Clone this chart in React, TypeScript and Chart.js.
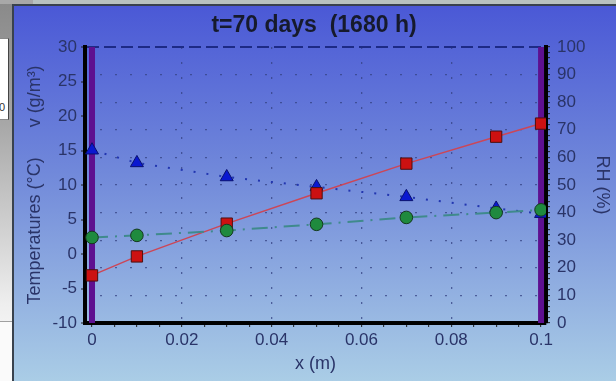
import React, { useEffect, useRef } from "react";
import { Chart, registerables } from "chart.js";

Chart.register(...registerables);

// ---- data ----
const positions = [0, 0.01, 0.03, 0.05, 0.07, 0.09, 0.1];
const temperature = [-3.1, -0.35, 4.4, 8.8, 13.1, 17.0, 18.9];
const vapourDensity = [2.4, 2.7, 3.4, 4.3, 5.3, 6.0, 6.4];
const relativeHumidity = [62.6, 58.0, 52.9, 49.3, 45.7, 41.5, 39.6];
const wallFaces = [0, 0.1];
const wallSpan = [-10, 30];

// ---- tick labels ----
const xMajorTicks = [0, 0.02, 0.04, 0.06, 0.08, 0.1];
const xMinorStep = 0.005;
const tempTicks = [-10, -5, 0, 5, 10, 15, 20, 25, 30];
const rhMajorTicks = [0, 10, 20, 30, 40, 50, 60, 70, 80, 90, 100];
const rhMinorStep = 2;

const TITLE = "t=70 days  (1680 h)";
const LEFT_TITLE = "Temperatures (°C)" + "\u00a0".repeat(6) + "v (g/m³)";
const RIGHT_TITLE = "RH (%)";
const X_TITLE = "x (m)";

const FONT = "'Liberation Sans', Arial, Helvetica, sans-serif";
const TEXT = "#2a3468";
const DOT = "rgba(52, 66, 130, 0.75)";

const isMult = (v: number, step: number) => Math.abs(v / step - Math.round(v / step)) < 1e-6;

function buildSteps(first: number, last: number, step: number) {
  const n = Math.round((last - first) / step);
  const out: { value: number }[] = [];
  for (let i = 0; i <= n; i++) out.push({ value: Math.round((first + i * step) * 1e6) / 1e6 });
  return out;
}

export default function App() {
  const ref = useRef<HTMLCanvasElement>(null);

  useEffect(() => {
    document.body.style.margin = "0";
    const canvas = ref.current!;

    const background = {
      id: "bg",
      beforeDraw(chart: any) {
        const { ctx, width, height } = chart;
        ctx.save();
        const g = ctx.createLinearGradient(0, 0, 0, height);
        g.addColorStop(0, "#4a58d6");
        g.addColorStop(0.45, "#7189da");
        g.addColorStop(1, "#aacde6");
        ctx.fillStyle = g;
        ctx.fillRect(0, 0, width, height);
        ctx.fillStyle = "#39424e";
        ctx.fillRect(0, 0, 2, height);
        ctx.fillRect(0, 0, width, 2);
        ctx.restore();
      },
    };

    const pts = (ys: number[]) => positions.map((x, i) => ({ x, y: ys[i] }));
    const wall = (xv: number) => wallSpan.map((y) => ({ x: xv, y }));

    const chart = new Chart(canvas, {
      type: "line",
      data: {
        datasets: [
          {
            label: "v",
            data: pts(vapourDensity),
            yAxisID: "y",
            borderColor: "#3f8a8c",
            borderWidth: 2,
            borderDash: [16, 7, 2, 7],
            pointStyle: "circle",
            pointRadius: 6.3,
            pointBackgroundColor: "#1f8a3e",
            pointBorderColor: "#15381f",
            pointBorderWidth: 1,
          },
          {
            label: "T",
            data: pts(temperature),
            yAxisID: "y",
            borderColor: "#cc4657",
            borderWidth: 1.5,
            pointStyle: "rect",
            pointRadius: 8,
            pointBackgroundColor: "#cc1111",
            pointBorderColor: "#4a1010",
            pointBorderWidth: 1,
          },
          {
            label: "RH",
            data: pts(relativeHumidity),
            yAxisID: "yR",
            borderColor: "#2236b0",
            borderWidth: 2,
            borderDash: [2, 11],
            pointStyle: "triangle",
            pointRadius: 7.5,
            pointBackgroundColor: "#0a18d0",
            pointBorderColor: "#081070",
            pointBorderWidth: 1,
          },
          ...wallFaces.map((xv) => ({
            label: "wall",
            data: wall(xv),
            yAxisID: "y",
            borderColor: "#5e1090",
            borderWidth: 6,
            pointRadius: 0,
          })),
        ],
      },
      options: {
        responsive: false,
        animation: false,
        devicePixelRatio: 1,
        layout: { padding: 0 },
        plugins: {
          legend: { display: false },
          tooltip: { enabled: false },
          title: {
            display: true,
            text: TITLE,
            color: "#161a2c",
            font: { family: FONT, size: 23, weight: "bold" },
            padding: { top: 8.2, bottom: 7.2 },
          },
        },
        scales: {
          x: {
            type: "linear",
            position: "bottom",
            min: -0.00156,
            max: 0.1011,
            afterBuildTicks: (s: any) => {
              s.ticks = buildSteps(xMajorTicks[0], xMajorTicks[xMajorTicks.length - 1], xMinorStep);
            },
            afterFit: (s: any) => {
              s.height = 58;
            },
            ticks: {
              autoSkip: false,
              maxRotation: 0,
              padding: 3,
              color: TEXT,
              font: { family: FONT, size: 17 },
              callback: (v: any) =>
                xMajorTicks.some((m) => Math.abs(m - v) < 1e-6) ? String(+Number(v).toFixed(3)) : "",
            },
            grid: {
              color: (c: any) => {
                const v = c.tick ? c.tick.value : null;
                return v != null && isMult(v, 0.02) && v > 0.001 && v < 0.099 ? DOT : "transparent";
              },
              lineWidth: 1.3,
              tickColor: "#1e1e1e",
              tickLength: 4,
              tickWidth: 1,
            },
            border: { display: true, color: "#000", width: 4, dash: [2, 13] },
            title: {
              display: true,
              text: X_TITLE,
              color: TEXT,
              font: { family: FONT, size: 18 },
              padding: { top: 0, bottom: 6 },
            },
          },
          y: {
            type: "linear",
            position: "left",
            min: -10,
            max: 30,
            afterBuildTicks: (s: any) => {
              s.ticks = tempTicks.map((value) => ({ value }));
            },
            afterFit: (s: any) => {
              s.width = 73;
            },
            ticks: { autoSkip: false, padding: 4, color: TEXT, font: { family: FONT, size: 17 } },
            grid: {
              color: (c: any) => (c.tick && c.tick.value === 30 ? "#1d2a86" : "transparent"),
              lineWidth: 2,
              tickColor: "#1e1e1e",
              tickLength: 4,
              tickWidth: 1,
            },
            border: { display: true, color: "#000", width: 4, dash: [12, 5] },
            title: {
              display: true,
              text: LEFT_TITLE,
              color: TEXT,
              font: { family: FONT, size: 18 },
              padding: { top: 12, bottom: 0 },
            },
          },
          yR: {
            type: "linear",
            position: "right",
            min: 0,
            max: 100,
            afterBuildTicks: (s: any) => {
              s.ticks = buildSteps(rhMajorTicks[0], rhMajorTicks[rhMajorTicks.length - 1], rhMinorStep);
            },
            afterFit: (s: any) => {
              s.width = 70;
            },
            ticks: {
              autoSkip: false,
              padding: 7,
              color: TEXT,
              font: { family: FONT, size: 17 },
              callback: (v: any) => (rhMajorTicks.includes(Math.round(v)) && isMult(v, 10) ? String(Math.round(v)) : ""),
            },
            grid: {
              color: (c: any) => {
                const v = c.tick ? c.tick.value : null;
                return v != null && isMult(v, 10) && v > 0 && v < 100 ? DOT : "transparent";
              },
              lineWidth: 1.3,
              tickColor: "#1e1e1e",
              tickLength: 4,
              tickWidth: 1,
            },
            border: { display: true, color: "#000", width: 4, dash: [2, 13] },
            title: {
              display: true,
              text: RIGHT_TITLE,
              color: TEXT,
              font: { family: FONT, size: 18 },
              padding: { top: 3, bottom: 0 },
            },
          },
        },
      } as any,
      plugins: [background],
    } as any);

    return () => chart.destroy();
  }, []);

  return (
    <div
      style={{
        position: "fixed",
        left: 0,
        top: 0,
        width: 616,
        height: 381,
        overflow: "hidden",
        background: "#f2f2f2",
      }}
    >
      <div style={{ position: "absolute", left: 0, top: 0, width: 616, height: 4, background: "#b8c2c0" }} />
      <div style={{ position: "absolute", left: 0, top: 0, width: 33, height: 4, background: "#a8a8a8" }} />
      <div
        style={{
          position: "absolute",
          left: 0,
          top: 4,
          width: 12,
          height: 377,
          background:
            "linear-gradient(to bottom, #8a8a8a 0px, #a6a6a6 116px, #eeeeee 300px, #f2f2f2 317px, #fafafa 318px)",
        }}
      />
      <div
        style={{
          position: "absolute",
          left: 0,
          top: 38,
          width: 8,
          height: 80,
          background: "#ffffff",
          borderRight: "1px solid #444",
          borderTop: "1px solid #888",
          borderBottom: "1px solid #888",
          overflow: "hidden",
        }}
      >
        <span
          style={{
            position: "absolute",
            left: -1,
            top: 62,
            fontFamily: FONT,
            fontSize: 11,
            color: "#333",
          }}
        >
          0
        </span>
      </div>
      <div style={{ position: "absolute", left: 0, top: 321, width: 12, height: 1, background: "#a0a0a0" }} />
      <canvas
        ref={ref}
        width={604}
        height={377}
        style={{ position: "absolute", left: 12, top: 4, width: 604, height: 377 }}
      />
    </div>
  );
}
